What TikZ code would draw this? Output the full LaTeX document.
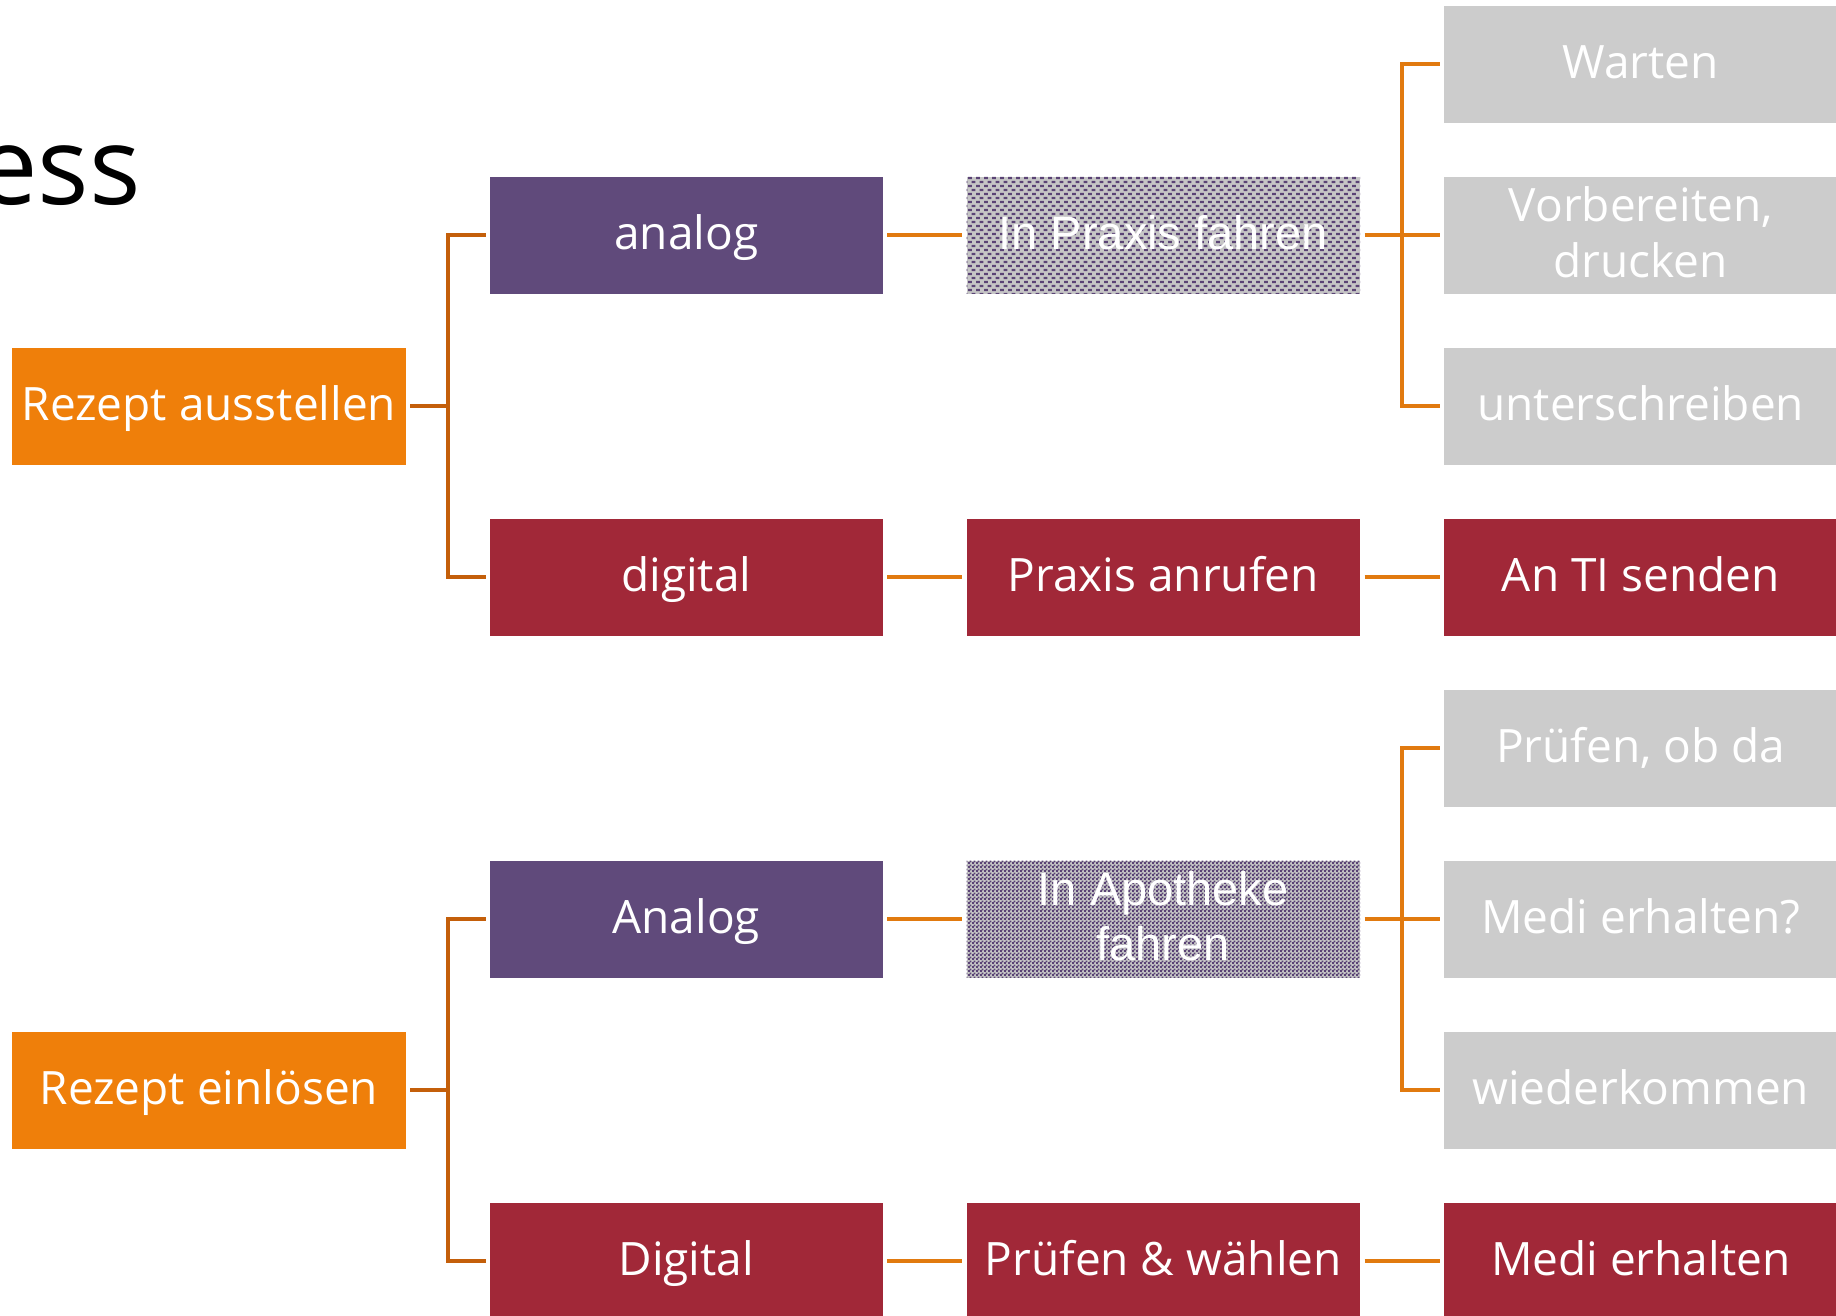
\documentclass[tikz,border=0pt]{standalone}
\usepackage{fontspec}
\setmainfont{Open Sans}
\newfontfamily\arialfont{Liberation Sans}
\usetikzlibrary{patterns}
\definecolor{corange}{HTML}{EF7F0A}
\definecolor{cpurple}{HTML}{604A7B}
\definecolor{ccrimson}{HTML}{A12838}
\definecolor{cgray}{HTML}{CCCCCC}
\definecolor{cpatbg}{HTML}{C6C6C6}
\definecolor{cpatfg}{HTML}{5A4375}
\definecolor{clineL}{HTML}{C45F0A}
\definecolor{clineR}{HTML}{E17A0F}
\pgfdeclarepatternformonly{hdashes}{\pgfpointorigin}{\pgfpoint{8pt}{8.4pt}}{\pgfpoint{8pt}{8.4pt}}{%
  \pgfpathrectangle{\pgfpoint{0pt}{1pt}}{\pgfpoint{4.4pt}{2.4pt}}%
  \pgfpathrectangle{\pgfpoint{4pt}{5.2pt}}{\pgfpoint{4.4pt}{2.4pt}}%
  \pgfusepath{fill}}
\pgfdeclarepatternformonly{sdots}{\pgfpointorigin}{\pgfpoint{4pt}{4pt}}{\pgfpoint{4pt}{4pt}}{%
  \pgfpathrectangle{\pgfpoint{0pt}{0pt}}{\pgfpoint{2.2pt}{2.2pt}}%
  \pgfpathrectangle{\pgfpoint{2pt}{2pt}}{\pgfpoint{2.2pt}{2.2pt}}%
  \pgfusepath{fill}}
\begin{document}
\begin{tikzpicture}[x=1pt,y=-1pt,
  box/.style={rectangle, inner sep=0pt, minimum width=393.5pt, minimum height=116.7pt,
    text=white, font=\fontsize{46}{56}\selectfont},
  oneline/.style={text height=38pt, text depth=10pt},
  rootbox/.style={box, oneline, fill=corange},
  purplebox/.style={box, oneline, fill=cpurple},
  redbox/.style={box, oneline, fill=ccrimson},
  graybox/.style={box, oneline, fill=cgray},
  dashbox/.style={box, preaction={fill=cpatbg}, pattern=hdashes, pattern color=cpatfg,
    font=\arialfont\fontsize{47}{56}\selectfont},
  dotbox/.style={box, preaction={fill=cpatbg}, pattern=sdots, pattern color=cpatfg,
    font=\arialfont\fontsize{47}{55}\selectfont},
  connL/.style={draw=clineL, line width=4pt, line cap=butt, line join=miter},
  connR/.style={draw=clineR, line width=4pt, line cap=butt, line join=miter}]
\useasboundingbox (0,0) rectangle (1836,1316);
\clip (0,0) rectangle (1836,1316);
\fill[white] (0,0) rectangle (1836,1316);

\node[anchor=base east, inner sep=0pt, font=\fontsize{108}{120}\selectfont] (title) at (141,205) {ess};

% upper tree
\node[rootbox]   (r1) at (208.9,406.3) {Rezept ausstellen};
\node[purplebox] (a1) at (686.3,235.3) {analog};
\node[redbox]    (d1) at (686.3,577.3) {digital};
\node[dashbox, oneline] (p1) at (1163.25,235.3) {In Praxis fahren};
\node[redbox]    (q1) at (1163.25,577.3) {Praxis anrufen};
\node[graybox]   (w1) at (1640.75,64.3) {Warten};
\node[box, fill=cgray, align=center] (v1) at (1640.75,235.3) {Vorbereiten,\\drucken\rule[-6pt]{0pt}{0pt}};
\node[graybox]   (u1) at (1640.75,406.3) {unterschreiben};
\node[redbox]    (t1) at (1640.75,577.3) {An TI senden};

% lower tree
\node[rootbox]   (r2) at (208.9,1090.3) {Rezept einlösen};
\node[purplebox] (a2) at (686.3,919.3) {Analog};
\node[redbox]    (d2) at (686.3,1261.3) {Digital};
\node[dotbox, align=center] (p2) at (1163.25,919.3) {In Apotheke\\fahren\rule[-6pt]{0pt}{0pt}};
\node[redbox]    (q2) at (1163.25,1261.3) {Prüfen \& wählen};
\node[graybox]   (w2) at (1640.75,748.3) {Prüfen, ob da};
\node[graybox]   (v2) at (1640.75,919.3) {Medi erhalten?};
\node[graybox]   (u2) at (1640.75,1090.3) {wiederkommen};
\node[redbox]    (t2) at (1640.75,1261.3) {Medi erhalten};

% connectors upper
\draw[connL] ([xshift=4.5pt]r1.east) -- ++(37.7,0);
\draw[connL] ([xshift=-3.5pt]a1.west) -- ++(-38.2,0) |- ([xshift=-3.5pt]d1.west);
\draw[connR] ([xshift=4pt]a1.east) -- ([xshift=-4.5pt]p1.west);
\draw[connR] ([xshift=4pt]d1.east) -- ([xshift=-4.5pt]q1.west);
\draw[connR] ([xshift=4.3pt]p1.east) -- ([xshift=-4pt]v1.west);
\draw[connR] ([xshift=-4pt]w1.west) -- ++(-38.3,0) |- ([xshift=-4pt]u1.west);
\draw[connR] ([xshift=4.3pt]q1.east) -- ([xshift=-4pt]t1.west);

% connectors lower
\draw[connL] ([xshift=4.5pt]r2.east) -- ++(37.7,0);
\draw[connL] ([xshift=-3.5pt]a2.west) -- ++(-38.2,0) |- ([xshift=-3.5pt]d2.west);
\draw[connR] ([xshift=4pt]a2.east) -- ([xshift=-4.5pt]p2.west);
\draw[connR] ([xshift=4pt]d2.east) -- ([xshift=-4.5pt]q2.west);
\draw[connR] ([xshift=4.3pt]p2.east) -- ([xshift=-4pt]v2.west);
\draw[connR] ([xshift=-4pt]w2.west) -- ++(-38.3,0) |- ([xshift=-4pt]u2.west);
\draw[connR] ([xshift=4.3pt]q2.east) -- ([xshift=-4pt]t2.west);
\end{tikzpicture}
\end{document}
